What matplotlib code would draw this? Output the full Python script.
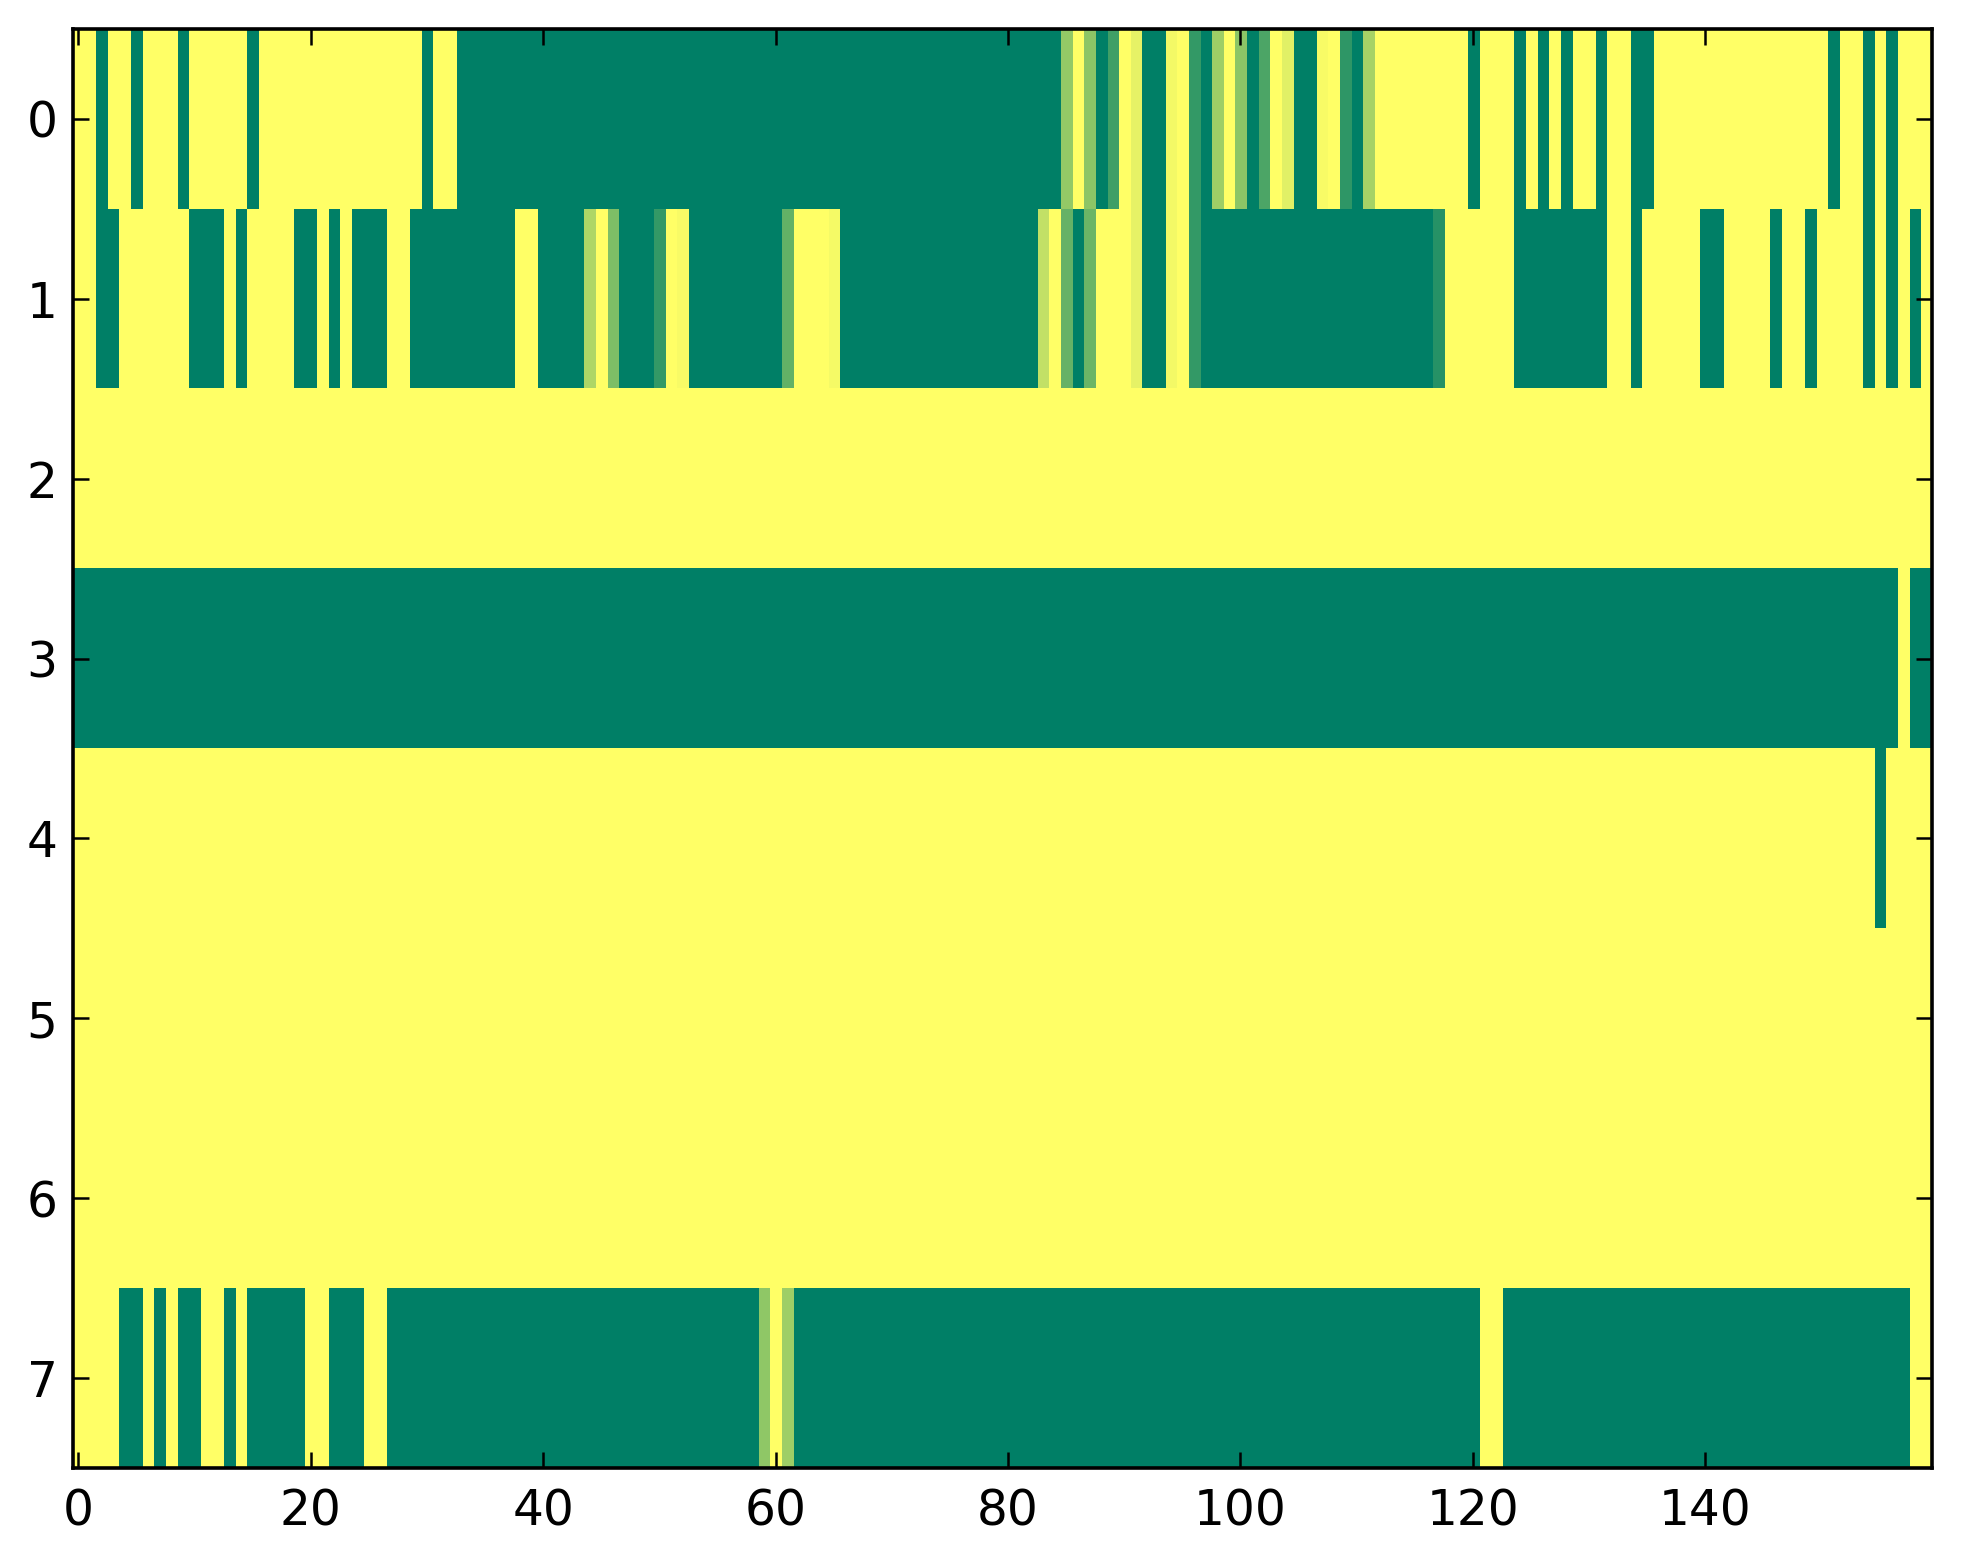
import numpy as np
import matplotlib
matplotlib.use("Agg")
import matplotlib.pyplot as plt

# cell values, 0 = green, 1 = yellow (summer colormap), 160 columns per row
row0 = [1, 1, 0, 1, 1, 0, 1, 1, 1, 0,
        1, 1, 1, 1, 1, 0, 1, 1, 1, 1,
        1, 1, 1, 1, 1, 1, 1, 1, 1, 1,
        0, 1, 1, 0, 0, 0, 0, 0, 0, 0,
        0, 0, 0, 0, 0, 0, 0, 0, 0, 0,
        0, 0, 0, 0, 0, 0, 0, 0, 0, 0,
        0, 0, 0, 0, 0, 0, 0, 0, 0, 0,
        0, 0, 0, 0, 0, 0, 0, 0, 0, 0,
        0, 0, 0, 0, 0, 0.58, 1, 0.55, 0, 0.25,
        1, 0.9, 0, 0, 0.95, 1, 0.2, 0, 0.62, 1,
        0.55, 0, 0.3, 1, 0.88, 0, 0, 0.97, 1, 0.18,
        0, 0.65, 1, 1, 1, 1, 1, 1, 1, 1,
        0, 1, 1, 1, 0, 1, 0, 1, 0, 1,
        1, 0, 1, 1, 0, 0, 1, 1, 1, 1,
        1, 1, 1, 1, 1, 1, 1, 1, 1, 1,
        1, 0, 1, 1, 0, 1, 0, 1, 1, 1]

row1 = [1, 1, 0, 0, 1, 1, 1, 1, 1, 1,
        0, 0, 0, 1, 0, 1, 1, 1, 1, 0,
        0, 1, 0, 1, 0, 0, 0, 1, 1, 0,
        0, 0, 0, 0, 0, 0, 0, 0, 1, 1,
        0, 0, 0, 0, 0.68, 1, 0.49, 0, 0, 0,
        0.2, 1, 0.97, 0, 0, 0, 0, 0, 0, 0,
        0, 0.39, 1, 1, 1, 0.96, 0, 0, 0, 0,
        0, 0, 0, 0, 0, 0, 0, 0, 0, 0,
        0, 0, 0, 0.76, 1, 0.4, 0, 0.42, 1, 1,
        1, 0.9, 0, 0, 0.95, 1, 0.2, 0, 0, 0,
        0, 0, 0, 0, 0, 0, 0, 0, 0, 0,
        0, 0, 0, 0, 0, 0, 0, 0.15, 1, 1,
        1, 1, 1, 1, 0, 0, 0, 0, 0, 0,
        0, 0, 1, 1, 0, 1, 1, 1, 1, 1,
        0, 0, 1, 1, 1, 1, 0, 1, 1, 0,
        1, 1, 1, 1, 0, 1, 0, 1, 0, 1]

row2 = [1, 1, 1, 1, 1, 1, 1, 1, 1, 1,
        1, 1, 1, 1, 1, 1, 1, 1, 1, 1,
        1, 1, 1, 1, 1, 1, 1, 1, 1, 1,
        1, 1, 1, 1, 1, 1, 1, 1, 1, 1,
        1, 1, 1, 1, 1, 1, 1, 1, 1, 1,
        1, 1, 1, 1, 1, 1, 1, 1, 1, 1,
        1, 1, 1, 1, 1, 1, 1, 1, 1, 1,
        1, 1, 1, 1, 1, 1, 1, 1, 1, 1,
        1, 1, 1, 1, 1, 1, 1, 1, 1, 1,
        1, 1, 1, 1, 1, 1, 1, 1, 1, 1,
        1, 1, 1, 1, 1, 1, 1, 1, 1, 1,
        1, 1, 1, 1, 1, 1, 1, 1, 1, 1,
        1, 1, 1, 1, 1, 1, 1, 1, 1, 1,
        1, 1, 1, 1, 1, 1, 1, 1, 1, 1,
        1, 1, 1, 1, 1, 1, 1, 1, 1, 1,
        1, 1, 1, 1, 1, 1, 1, 1, 1, 1]

row3 = [0, 0, 0, 0, 0, 0, 0, 0, 0, 0,
        0, 0, 0, 0, 0, 0, 0, 0, 0, 0,
        0, 0, 0, 0, 0, 0, 0, 0, 0, 0,
        0, 0, 0, 0, 0, 0, 0, 0, 0, 0,
        0, 0, 0, 0, 0, 0, 0, 0, 0, 0,
        0, 0, 0, 0, 0, 0, 0, 0, 0, 0,
        0, 0, 0, 0, 0, 0, 0, 0, 0, 0,
        0, 0, 0, 0, 0, 0, 0, 0, 0, 0,
        0, 0, 0, 0, 0, 0, 0, 0, 0, 0,
        0, 0, 0, 0, 0, 0, 0, 0, 0, 0,
        0, 0, 0, 0, 0, 0, 0, 0, 0, 0,
        0, 0, 0, 0, 0, 0, 0, 0, 0, 0,
        0, 0, 0, 0, 0, 0, 0, 0, 0, 0,
        0, 0, 0, 0, 0, 0, 0, 0, 0, 0,
        0, 0, 0, 0, 0, 0, 0, 0, 0, 0,
        0, 0, 0, 0, 0, 0, 0, 1, 0, 0]

row4 = [1, 1, 1, 1, 1, 1, 1, 1, 1, 1,
        1, 1, 1, 1, 1, 1, 1, 1, 1, 1,
        1, 1, 1, 1, 1, 1, 1, 1, 1, 1,
        1, 1, 1, 1, 1, 1, 1, 1, 1, 1,
        1, 1, 1, 1, 1, 1, 1, 1, 1, 1,
        1, 1, 1, 1, 1, 1, 1, 1, 1, 1,
        1, 1, 1, 1, 1, 1, 1, 1, 1, 1,
        1, 1, 1, 1, 1, 1, 1, 1, 1, 1,
        1, 1, 1, 1, 1, 1, 1, 1, 1, 1,
        1, 1, 1, 1, 1, 1, 1, 1, 1, 1,
        1, 1, 1, 1, 1, 1, 1, 1, 1, 1,
        1, 1, 1, 1, 1, 1, 1, 1, 1, 1,
        1, 1, 1, 1, 1, 1, 1, 1, 1, 1,
        1, 1, 1, 1, 1, 1, 1, 1, 1, 1,
        1, 1, 1, 1, 1, 1, 1, 1, 1, 1,
        1, 1, 1, 1, 1, 0, 1, 1, 1, 1]

row5 = [1, 1, 1, 1, 1, 1, 1, 1, 1, 1,
        1, 1, 1, 1, 1, 1, 1, 1, 1, 1,
        1, 1, 1, 1, 1, 1, 1, 1, 1, 1,
        1, 1, 1, 1, 1, 1, 1, 1, 1, 1,
        1, 1, 1, 1, 1, 1, 1, 1, 1, 1,
        1, 1, 1, 1, 1, 1, 1, 1, 1, 1,
        1, 1, 1, 1, 1, 1, 1, 1, 1, 1,
        1, 1, 1, 1, 1, 1, 1, 1, 1, 1,
        1, 1, 1, 1, 1, 1, 1, 1, 1, 1,
        1, 1, 1, 1, 1, 1, 1, 1, 1, 1,
        1, 1, 1, 1, 1, 1, 1, 1, 1, 1,
        1, 1, 1, 1, 1, 1, 1, 1, 1, 1,
        1, 1, 1, 1, 1, 1, 1, 1, 1, 1,
        1, 1, 1, 1, 1, 1, 1, 1, 1, 1,
        1, 1, 1, 1, 1, 1, 1, 1, 1, 1,
        1, 1, 1, 1, 1, 1, 1, 1, 1, 1]

row6 = [1, 1, 1, 1, 1, 1, 1, 1, 1, 1,
        1, 1, 1, 1, 1, 1, 1, 1, 1, 1,
        1, 1, 1, 1, 1, 1, 1, 1, 1, 1,
        1, 1, 1, 1, 1, 1, 1, 1, 1, 1,
        1, 1, 1, 1, 1, 1, 1, 1, 1, 1,
        1, 1, 1, 1, 1, 1, 1, 1, 1, 1,
        1, 1, 1, 1, 1, 1, 1, 1, 1, 1,
        1, 1, 1, 1, 1, 1, 1, 1, 1, 1,
        1, 1, 1, 1, 1, 1, 1, 1, 1, 1,
        1, 1, 1, 1, 1, 1, 1, 1, 1, 1,
        1, 1, 1, 1, 1, 1, 1, 1, 1, 1,
        1, 1, 1, 1, 1, 1, 1, 1, 1, 1,
        1, 1, 1, 1, 1, 1, 1, 1, 1, 1,
        1, 1, 1, 1, 1, 1, 1, 1, 1, 1,
        1, 1, 1, 1, 1, 1, 1, 1, 1, 1,
        1, 1, 1, 1, 1, 1, 1, 1, 1, 1]

row7 = [1, 1, 1, 1, 0, 0, 1, 0, 1, 0,
        0, 1, 1, 0, 1, 0, 0, 0, 0, 0,
        1, 1, 0, 0, 0, 1, 1, 0, 0, 0,
        0, 0, 0, 0, 0, 0, 0, 0, 0, 0,
        0, 0, 0, 0, 0, 0, 0, 0, 0, 0,
        0, 0, 0, 0, 0, 0, 0, 0, 0, 0.56,
        1, 0.62, 0, 0, 0, 0, 0, 0, 0, 0,
        0, 0, 0, 0, 0, 0, 0, 0, 0, 0,
        0, 0, 0, 0, 0, 0, 0, 0, 0, 0,
        0, 0, 0, 0, 0, 0, 0, 0, 0, 0,
        0, 0, 0, 0, 0, 0, 0, 0, 0, 0,
        0, 0, 0, 0, 0, 0, 0, 0, 0, 0,
        0, 1, 1, 0, 0, 0, 0, 0, 0, 0,
        0, 0, 0, 0, 0, 0, 0, 0, 0, 0,
        0, 0, 0, 0, 0, 0, 0, 0, 0, 0,
        0, 0, 0, 0, 0, 0, 0, 0, 1, 1]

xticks = [0, 20, 40, 60, 80, 100, 120, 140]
yticks = [0, 1, 2, 3, 4, 5, 6, 7]

grid = np.array([row0, row1, row2, row3, row4, row5, row6, row7], dtype=float)

fig = plt.figure(figsize=(1963 / 200, 1564 / 200), dpi=200)
ax = fig.add_axes([72.5 / 1963, 96 / 1564, (1932 - 72.5) / 1963, (1468 - 29) / 1564])

ax.imshow(grid, cmap="summer", vmin=0, vmax=1, aspect="auto", interpolation="nearest")

ax.set_xticks(xticks)
ax.set_yticks(yticks)
ax.tick_params(direction="in", top=True, right=True, length=5.8, width=0.9,
               labelsize=17.5)
ax.tick_params(axis="x", pad=7)
ax.tick_params(axis="y", pad=5.4)
for s in ax.spines.values():
    s.set_linewidth(1.3)

fig.savefig("out.png", dpi=200, facecolor="white")
